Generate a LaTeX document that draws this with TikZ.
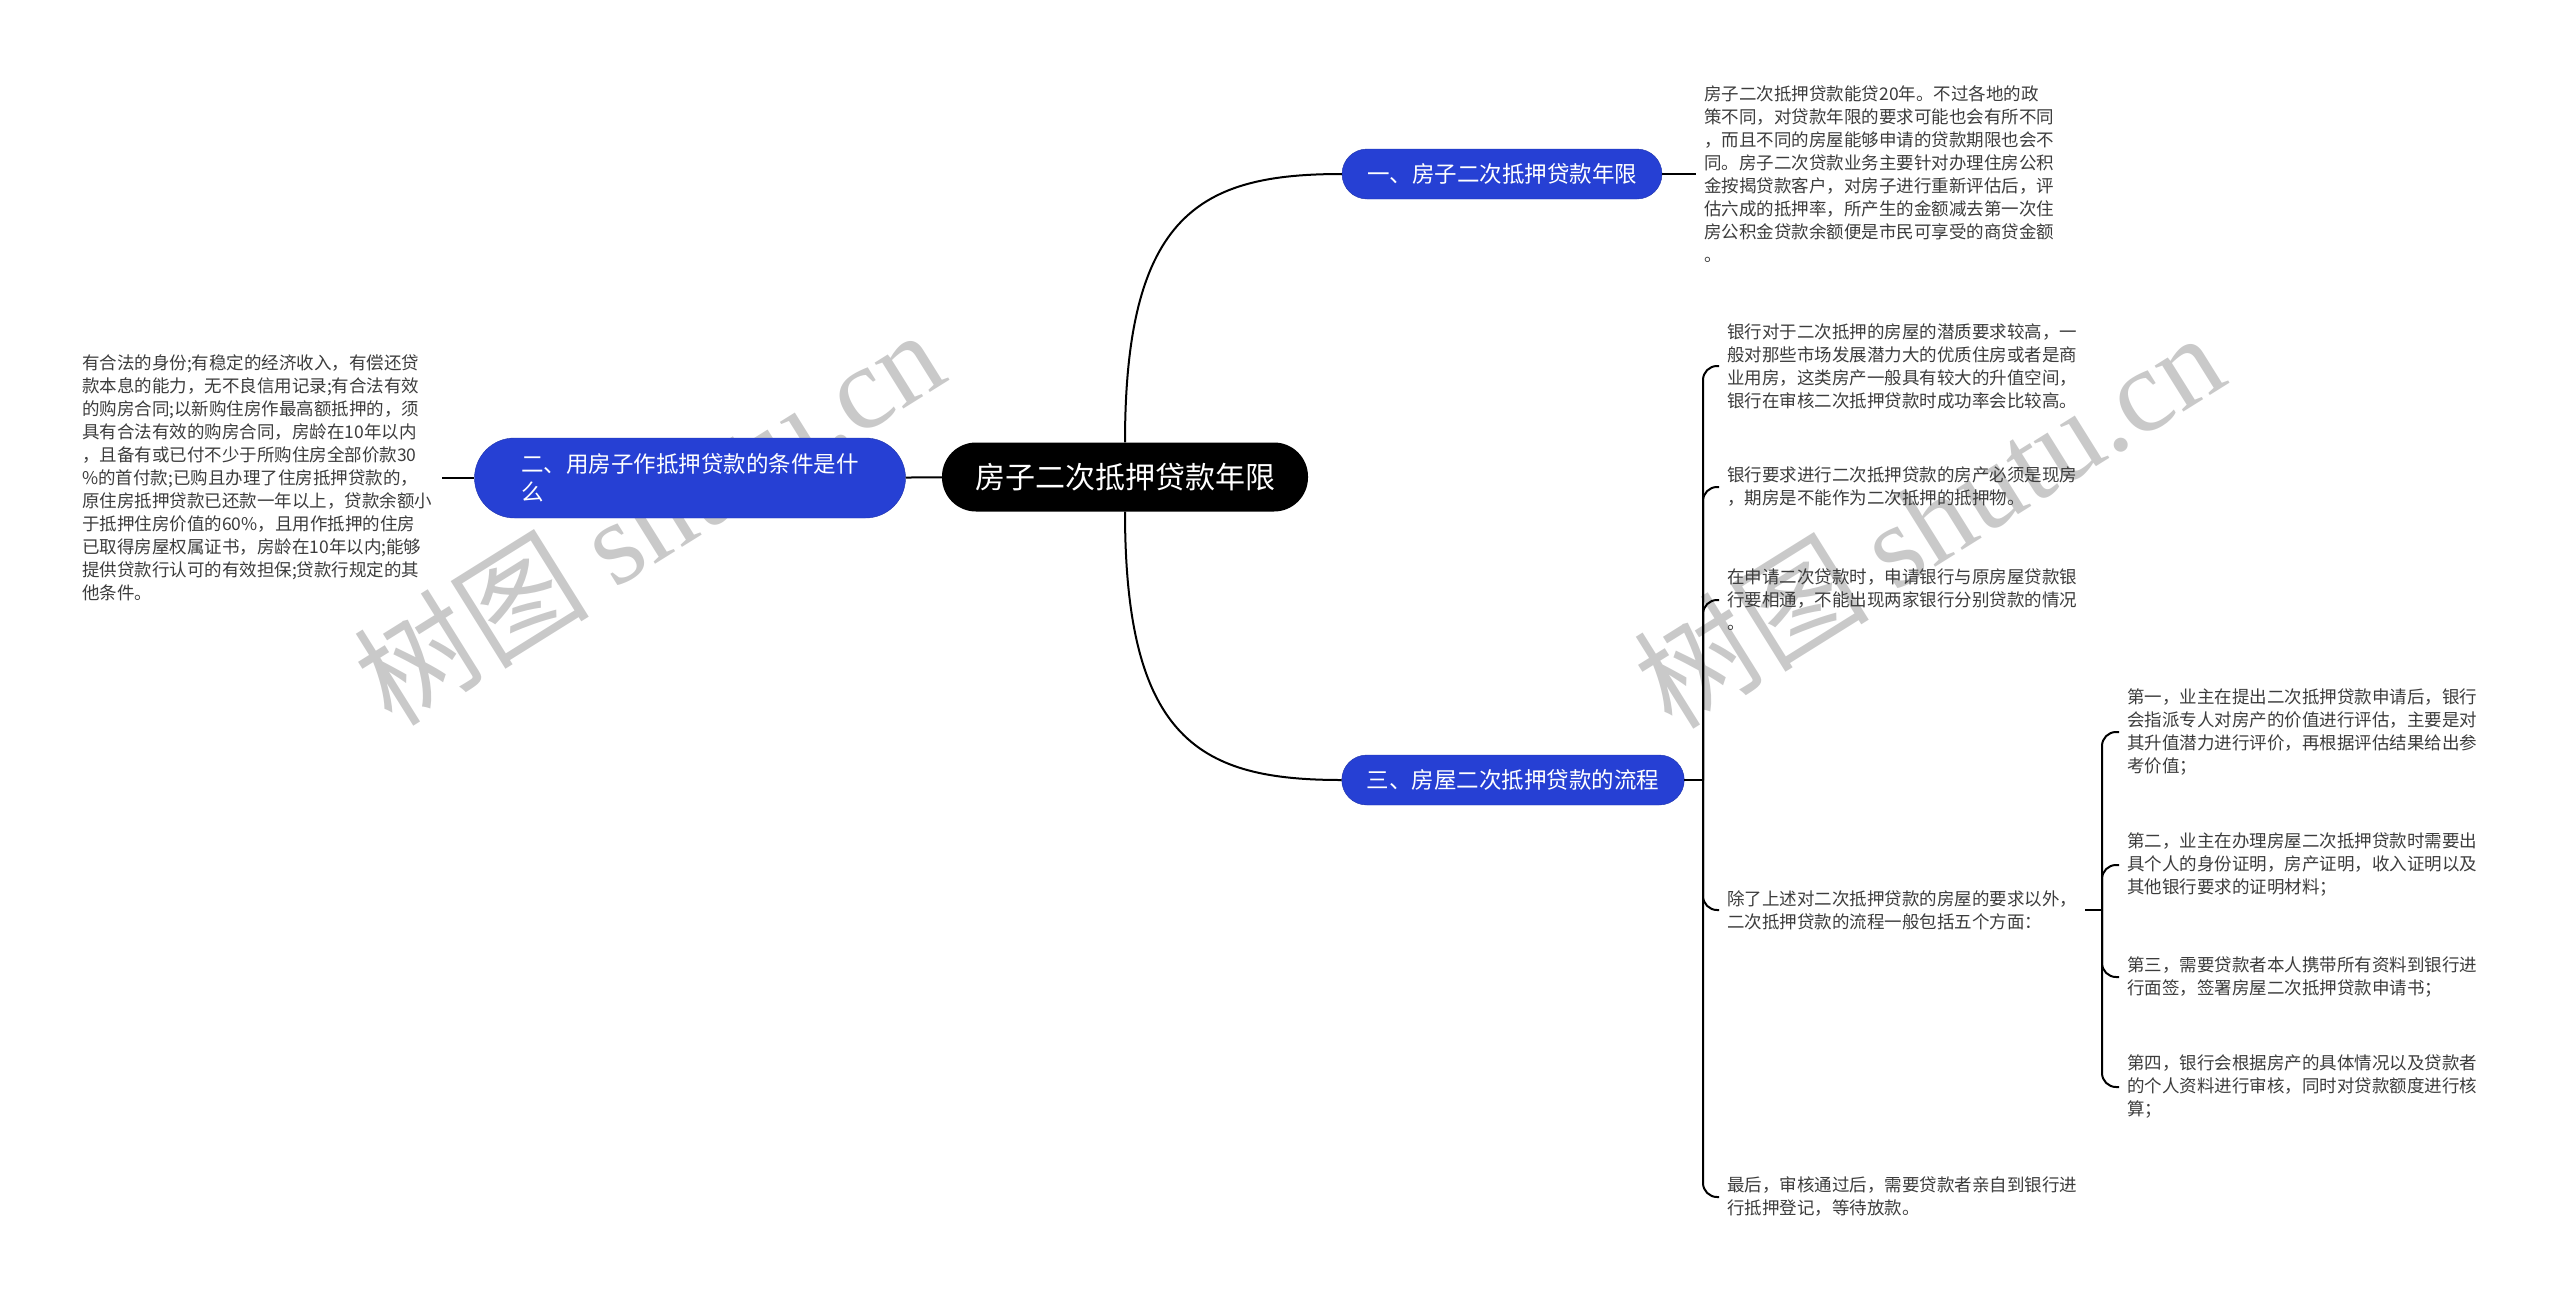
\documentclass[tikz,border=0pt]{standalone}
\usepackage{fontspec}
\setmainfont{Noto Sans CJK SC}
\newfontfamily\wmfont{Liberation Serif}
\usepackage{xcolor}
\usepackage{tikz}
\usetikzlibrary{positioning}

\definecolor{branchblue}{RGB}{38,64,212}
\definecolor{leafgray}{RGB}{60,60,60}

\tikzset{
  topic/.style={fill=black, text=white, rounded corners=34pt, minimum width=366pt, minimum height=69pt, font=\fontsize{30}{36}\selectfont},
  branch/.style={fill=branchblue, draw=branchblue!80!black, text=white, rounded corners=25pt, minimum height=50pt, inner xsep=25pt, font=\fontsize{22.5}{28}\selectfont},
  leaf/.style={align=left, text=leafgray, inner xsep=8pt, inner ysep=0pt, font=\fontsize{17.5}{23}\selectfont},
  link/.style={line width=2pt, black},
  wmark/.style={text=black!21, rotate=32, font=\fontsize{118}{118}\selectfont}
}

\begin{document}
\begin{tikzpicture}[x=1pt, y=-1pt]
        \useasboundingbox (0,0) rectangle (2560,1304);

        % watermark
        \node[wmark] (wm1) at (648,516) {树图 {\wmfont shutu.cn}};
        \node[wmark] (wm2) at (1928,519) {树图 {\wmfont shutu.cn}};

        \node[topic] (root) at (1125,477) {房子二次抵押贷款年限};

        \node[branch] (b1) at (1502,174) {一、房子二次抵押贷款年限};
        \node[branch] (b3) at (1513,780) {三、房屋二次抵押贷款的流程};
        \node[branch] (b2) [minimum width=431pt, minimum height=80pt, rounded corners=40pt, align=left] at (690,478) {二、用房子作抵押贷款的条件是什\\么};

        \node[leaf] (t1) [right=34pt of b1] {房子二次抵押贷款能贷20年。不过各地的政\\策不同，对贷款年限的要求可能也会有所不同\\，而且不同的房屋能够申请的贷款期限也会不\\同。房子二次贷款业务主要针对办理住房公积\\金按揭贷款客户，对房子进行重新评估后，评\\估六成的抵押率，所产生的金额减去第一次住\\房公积金贷款余额便是市民可享受的商贷金额\\。};

        \node[leaf] (t2) [left=32pt of b2, inner xsep=10pt] {有合法的身份;有稳定的经济收入，有偿还贷\\款本息的能力，无不良信用记录;有合法有效\\的购房合同;以新购住房作最高额抵押的，须\\具有合法有效的购房合同，房龄在10年以内\\，且备有或已付不少于所购住房全部价款30\\\%的首付款;已购且办理了住房抵押贷款的，\\原住房抵押贷款已还款一年以上，贷款余额小\\于抵押住房价值的60\%，且用作抵押的住房\\已取得房屋权属证书，房龄在10年以内;能够\\提供贷款行认可的有效担保;贷款行规定的其\\他条件。};

        \coordinate (j3) at (1703,780);
        \node[leaf] (c1) [anchor=west] at (1719,366) {银行对于二次抵押的房屋的潜质要求较高，一\\般对那些市场发展潜力大的优质住房或者是商\\业用房，这类房产一般具有较大的升值空间，\\银行在审核二次抵押贷款时成功率会比较高。};
        \node[leaf] (c2) [anchor=west] at (1719,487) {银行要求进行二次抵押贷款的房产必须是现房\\，期房是不能作为二次抵押的抵押物。};
        \node[leaf] (c3) [anchor=west] at (1719,600) {在申请二次贷款时，申请银行与原房屋贷款银\\行要相通，不能出现两家银行分别贷款的情况\\。};
        \node[leaf] (c4) [anchor=west] at (1719,910) {除了上述对二次抵押贷款的房屋的要求以外，\\二次抵押贷款的流程一般包括五个方面：};
        \node[leaf] (c5) [anchor=west] at (1719,1197) {最后，审核通过后，需要贷款者亲自到银行进\\行抵押登记，等待放款。};

        \coordinate (j4) at (2102,910);
        \node[leaf] (d1) [anchor=west] at (2119,732) {第一，业主在提出二次抵押贷款申请后，银行\\会指派专人对房产的价值进行评估，主要是对\\其升值潜力进行评价，再根据评估结果给出参\\考价值；};
        \node[leaf] (d2) [anchor=west] at (2119,865) {第二，业主在办理房屋二次抵押贷款时需要出\\具个人的身份证明，房产证明，收入证明以及\\其他银行要求的证明材料；};
        \node[leaf] (d3) [anchor=west] at (2119,977) {第三，需要贷款者本人携带所有资料到银行进\\行面签，签署房屋二次抵押贷款申请书；};
        \node[leaf] (d4) [anchor=west] at (2119,1087) {第四，银行会根据房产的具体情况以及贷款者\\的个人资料进行审核，同时对贷款额度进行核\\算；};

        \draw[link] (root.north) .. controls +(0,-230) and +(-140,0) .. (b1.west);
        \draw[link] (root.south) .. controls +(0,230) and +(-140,0) .. (b3.west);
        \draw[link] (root) -- (b2);
        \draw[link] (b1) -- (t1);
        \draw[link] (b2) -- (t2);

        \draw[link] (b3.east) -- (j3);
        \foreach \c in {c1,c2,c3,c4,c5}
          \draw[link, rounded corners=14pt] (j3) |- (\c.west);

        \draw[link] (c4.east) -- (j4);
        \foreach \d in {d1,d2,d3,d4}
          \draw[link, rounded corners=14pt] (j4) |- (\d.west);

\end{tikzpicture}
\end{document}
